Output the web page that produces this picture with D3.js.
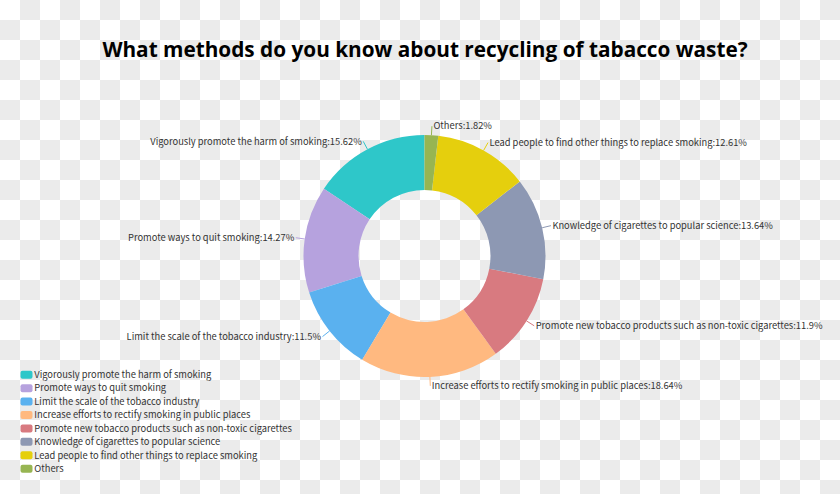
<!DOCTYPE html>
<html><head><meta charset="utf-8">
<script src="https://cdn.jsdelivr.net/npm/d3@7"></script>
<style>html,body{margin:0;padding:0;background:#fff;}svg{display:block;}</style>
</head><body>
<svg id="chart" width="840" height="494"></svg>
<script>
const categories = [
  "Vigorously promote the harm of smoking",
  "Promote ways to quit smoking",
  "Limit the scale of the tobacco industry",
  "Increase efforts to rectify smoking in public places",
  "Promote new tobacco products such as non-toxic cigarettes",
  "Knowledge of cigarettes to popular science",
  "Lead people to find other things to replace smoking",
  "Others"
];
const percentages = [15.62, 14.27, 11.5, 18.64, 11.9, 13.64, 12.61, 1.82];
const colors = ["#2ec7c9","#b6a2de","#5ab1ef","#ffb980","#d87a80","#8d98b3","#e5cf0d","#97b552"];
const title = "What methods do you know about recycling of tabacco waste?";

const W = 840, H = 494;
const svg = d3.select("#chart");
const FONT = "'Noto Sans CJK SC', 'Noto Sans', sans-serif";
const TFONT = "'Open Sans', 'Noto Sans', sans-serif";

// checkerboard background (transparent-image look)
const cell = 20;
const cells = [];
for (let j = 0; j * cell < H; j++) for (let i = 0; i * cell < W; i++) if ((i + j) % 2 === 1) cells.push([i, j]);
svg.append("rect").attr("width", W).attr("height", H).attr("fill", "#ffffff");
svg.append("g").selectAll("rect").data(cells).join("rect")
  .attr("x", d => d[0] * cell).attr("y", d => d[1] * cell)
  .attr("width", cell).attr("height", cell).attr("fill", "#ebebeb");

// font fitting helper
function fitSize(text, target, weight, font) {
  const t = svg.append("text").attr("font-family", font).attr("font-weight", weight)
    .attr("font-size", 20).text(text);
  const w = t.node().getComputedTextLength();
  t.remove();
  return 20 * target / w;
}
const titleSize = fitSize(title, 646, "bold", TFONT);
const smallSize = fitSize(categories[4], 258, "normal", FONT);

svg.append("text").attr("x", 425).attr("y", 57).attr("text-anchor", "middle")
  .attr("font-family", TFONT).attr("font-weight", "bold").attr("font-size", titleSize)
  .attr("fill", "#000").text(title);

// donut
const cx = 424.5, cy = 256, R = 121, r0 = 66;
const pie = d3.pie().sort(null).value(d => d).startAngle(0).endAngle(-2 * Math.PI);
const arcs = pie(percentages);
const arc = d3.arc().innerRadius(r0).outerRadius(R);
const g = svg.append("g").attr("transform", `translate(${cx},${cy})`);
g.selectAll("path").data(arcs).join("path").attr("d", arc).attr("fill", (d, i) => colors[i]);

// labels with leader lines
const pt = (a, rad) => [rad * Math.sin(a), -rad * Math.cos(a)];
arcs.forEach((d, i) => {
  const a = (d.startAngle + d.endAngle) / 2;
  const p1 = pt(a, R), p2 = pt(a, R + 9);
  const right = Math.sin(a) >= 0;
  g.append("line").attr("x1", p1[0]).attr("y1", p1[1]).attr("x2", p2[0]).attr("y2", p2[1])
    .attr("stroke", colors[i]).attr("stroke-width", 1);
  g.append("text").attr("x", p2[0] + (right ? 1.5 : -1.5)).attr("y", p2[1])
    .attr("dy", "0.35em").attr("text-anchor", right ? "start" : "end")
    .attr("font-family", FONT).attr("font-size", smallSize).attr("fill", "#333")
    .text(categories[i] + ":" + percentages[i] + "%");
});

// legend
const lg = svg.append("g");
const rowY = d3.scalePoint().domain(categories).range([374.7, 468.7]);
categories.forEach((c, i) => {
  const y = rowY(c);
  lg.append("rect").attr("x", 20.5).attr("y", y - 4).attr("width", 12).attr("height", 8)
    .attr("rx", 2).attr("fill", colors[i]);
  lg.append("text").attr("x", 34.3).attr("y", y).attr("dy", "0.35em")
    .attr("font-family", FONT).attr("font-size", smallSize).attr("fill", "#333").text(c);
});
</script>
</body></html>
